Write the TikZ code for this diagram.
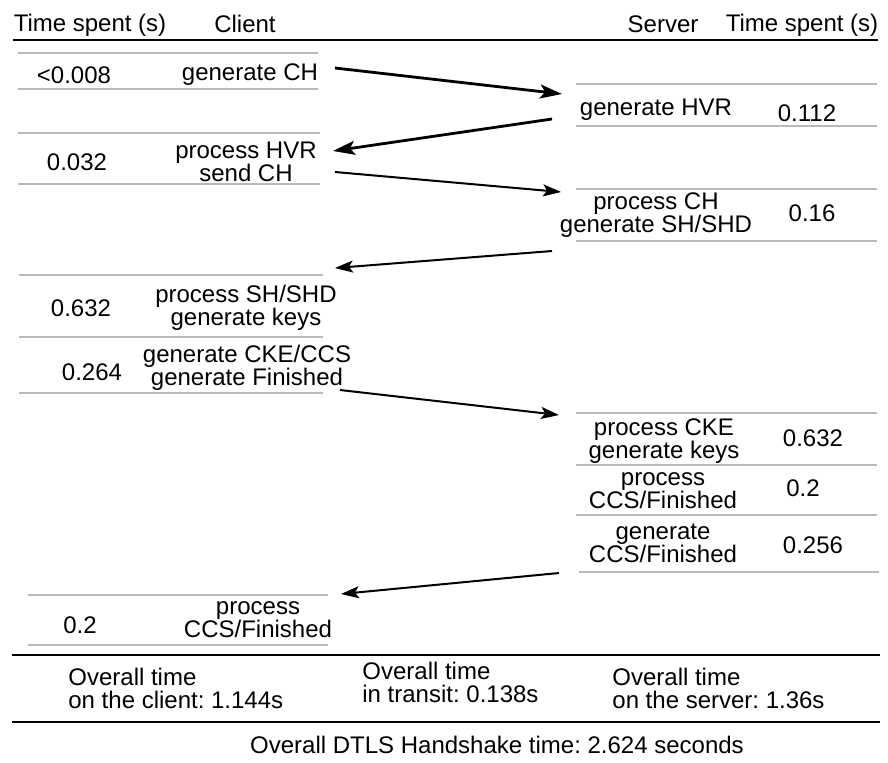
\documentclass[tikz,border=0pt]{standalone}
\usepackage{fontspec}
\setmainfont{Liberation Sans}
\usetikzlibrary{arrows.meta}
\frenchspacing

\begin{document}
\begin{tikzpicture}[x=0.5pt, y=-0.5pt,
		every node/.style={font=\fontsize{12}{11.5}\selectfont, inner sep=0pt, align=center},
		rowline/.style={gray!55, line width=0.8pt},
		boldline/.style={black, line width=1.2pt},
		msg/.style={line width=1pt, -{Stealth[length=9pt, width=6pt, inset=2pt]}},
		bigmsg/.style={line width=1.4pt, -{Stealth[length=11pt, width=7pt, inset=2.5pt]}}]
	
	\useasboundingbox (0,0) rectangle (888,762);
	
	% Заголовки столбцов
	\node (hct) at (90,25) {Time spent (s)};
	\node (hc) at (245,24) {Client};
	\node (hs) at (663,24) {Server};
	\node (hst) at (802,25) {Time spent (s)};
	\draw[boldline] (13,40) -- (878,40);
	
	% Строки клиента
	\draw[rowline] (18,53) -- (318,53);
	\draw[rowline] (18,89) -- (318,89);
	\node (cv1) at (74,75) {<0.008};
	\node (ca1) at (250,75) {generate CH};
	
	\draw[rowline] (18,133) -- (320,133);
	\draw[rowline] (18,184) -- (320,184);
	\node (cv2) at (77,162) {0.032};
	\node (ca2) at (246,162) {process HVR\\send CH};
	
	\draw[rowline] (19,275) -- (323,275);
	\draw[rowline] (19,337) -- (323,337);
	\draw[rowline] (19,393) -- (323,393);
	\node (cv3) at (81,308) {0.632};
	\node (ca3) at (246,308) {process SH/SHD\\generate keys};
	\node (cv4) at (92,372) {0.264};
	\node (ca4) at (247,368) {generate CKE/CCS\\generate Finished};
	
	\draw[rowline] (28,595) -- (328,595);
	\draw[rowline] (28,645) -- (328,645);
	\node (cv5) at (80,625) {0.2};
	\node (ca5) at (258,620) {process\\CCS/Finished};
	
	% Строки сервера
	\draw[rowline] (576,84) -- (877,84);
	\draw[rowline] (576,126) -- (877,126);
	\node (sa1) at (656,110) {generate HVR};
	\node (sv1) at (807,113) {0.112};
	
	\draw[rowline] (576,189) -- (877,189);
	\draw[rowline] (576,241) -- (877,241);
	\node (sa2) at (656,215) {process CH\\generate SH/SHD};
	\node (sv2) at (812,213) {0.16};
	
	\draw[rowline] (576,413) -- (877,413);
	\draw[rowline] (576,465) -- (877,465);
	\draw[rowline] (576,515) -- (877,515);
	\draw[rowline] (579,572) -- (879,572);
	\node (sa3) at (664,441) {process CKE\\generate keys};
	\node (sv3) at (813,438) {0.632};
	\node (sa4) at (663,491) {process\\CCS/Finished};
	\node (sv4) at (803,488) {0.2};
	\node (sa5) at (663,543) {generate\\CCS/Finished};
	\node (sv5) at (813,545) {0.256};
	
	% Концы стрелок
	\coordinate (m1s) at (335,68);
	\coordinate (m1e) at (562,94);
	\coordinate (m2s) at (552,119);
	\coordinate (m2e) at (333,151);
	\coordinate (m3s) at (335,172);
	\coordinate (m3e) at (561,192);
	\coordinate (m4s) at (552,251);
	\coordinate (m4e) at (335,268);
	\coordinate (m5s) at (340,390);
	\coordinate (m5e) at (559,415);
	\coordinate (m6s) at (559,573);
	\coordinate (m6e) at (341,594);
	
	% Сообщения
	\draw[bigmsg] (m1s) -- (m1e);
	\draw[bigmsg] (m2s) -- (m2e);
	\draw[msg] (m3s) -- (m3e);
	\draw[msg] (m4s) -- (m4e);
	\draw[msg] (m5s) -- (m5e);
	\draw[msg] (m6s) -- (m6e);
	
	% Итоги
	\draw[boldline] (12,655) -- (880,655);
	\node[anchor=west, align=left] (tc) at (68,688) {Overall time\\on the client: 1.144s};
	\node[anchor=west, align=left] (tt) at (362,682) {Overall time\\in transit: 0.138s};
	\node[anchor=west, align=left] (ts) at (612,688) {Overall time\\on the server: 1.36s};
	\draw[boldline] (12,722) -- (880,722);
	\node (tall) at (497,745) {Overall DTLS Handshake time: 2.624 seconds};
\end{tikzpicture}
\end{document}
